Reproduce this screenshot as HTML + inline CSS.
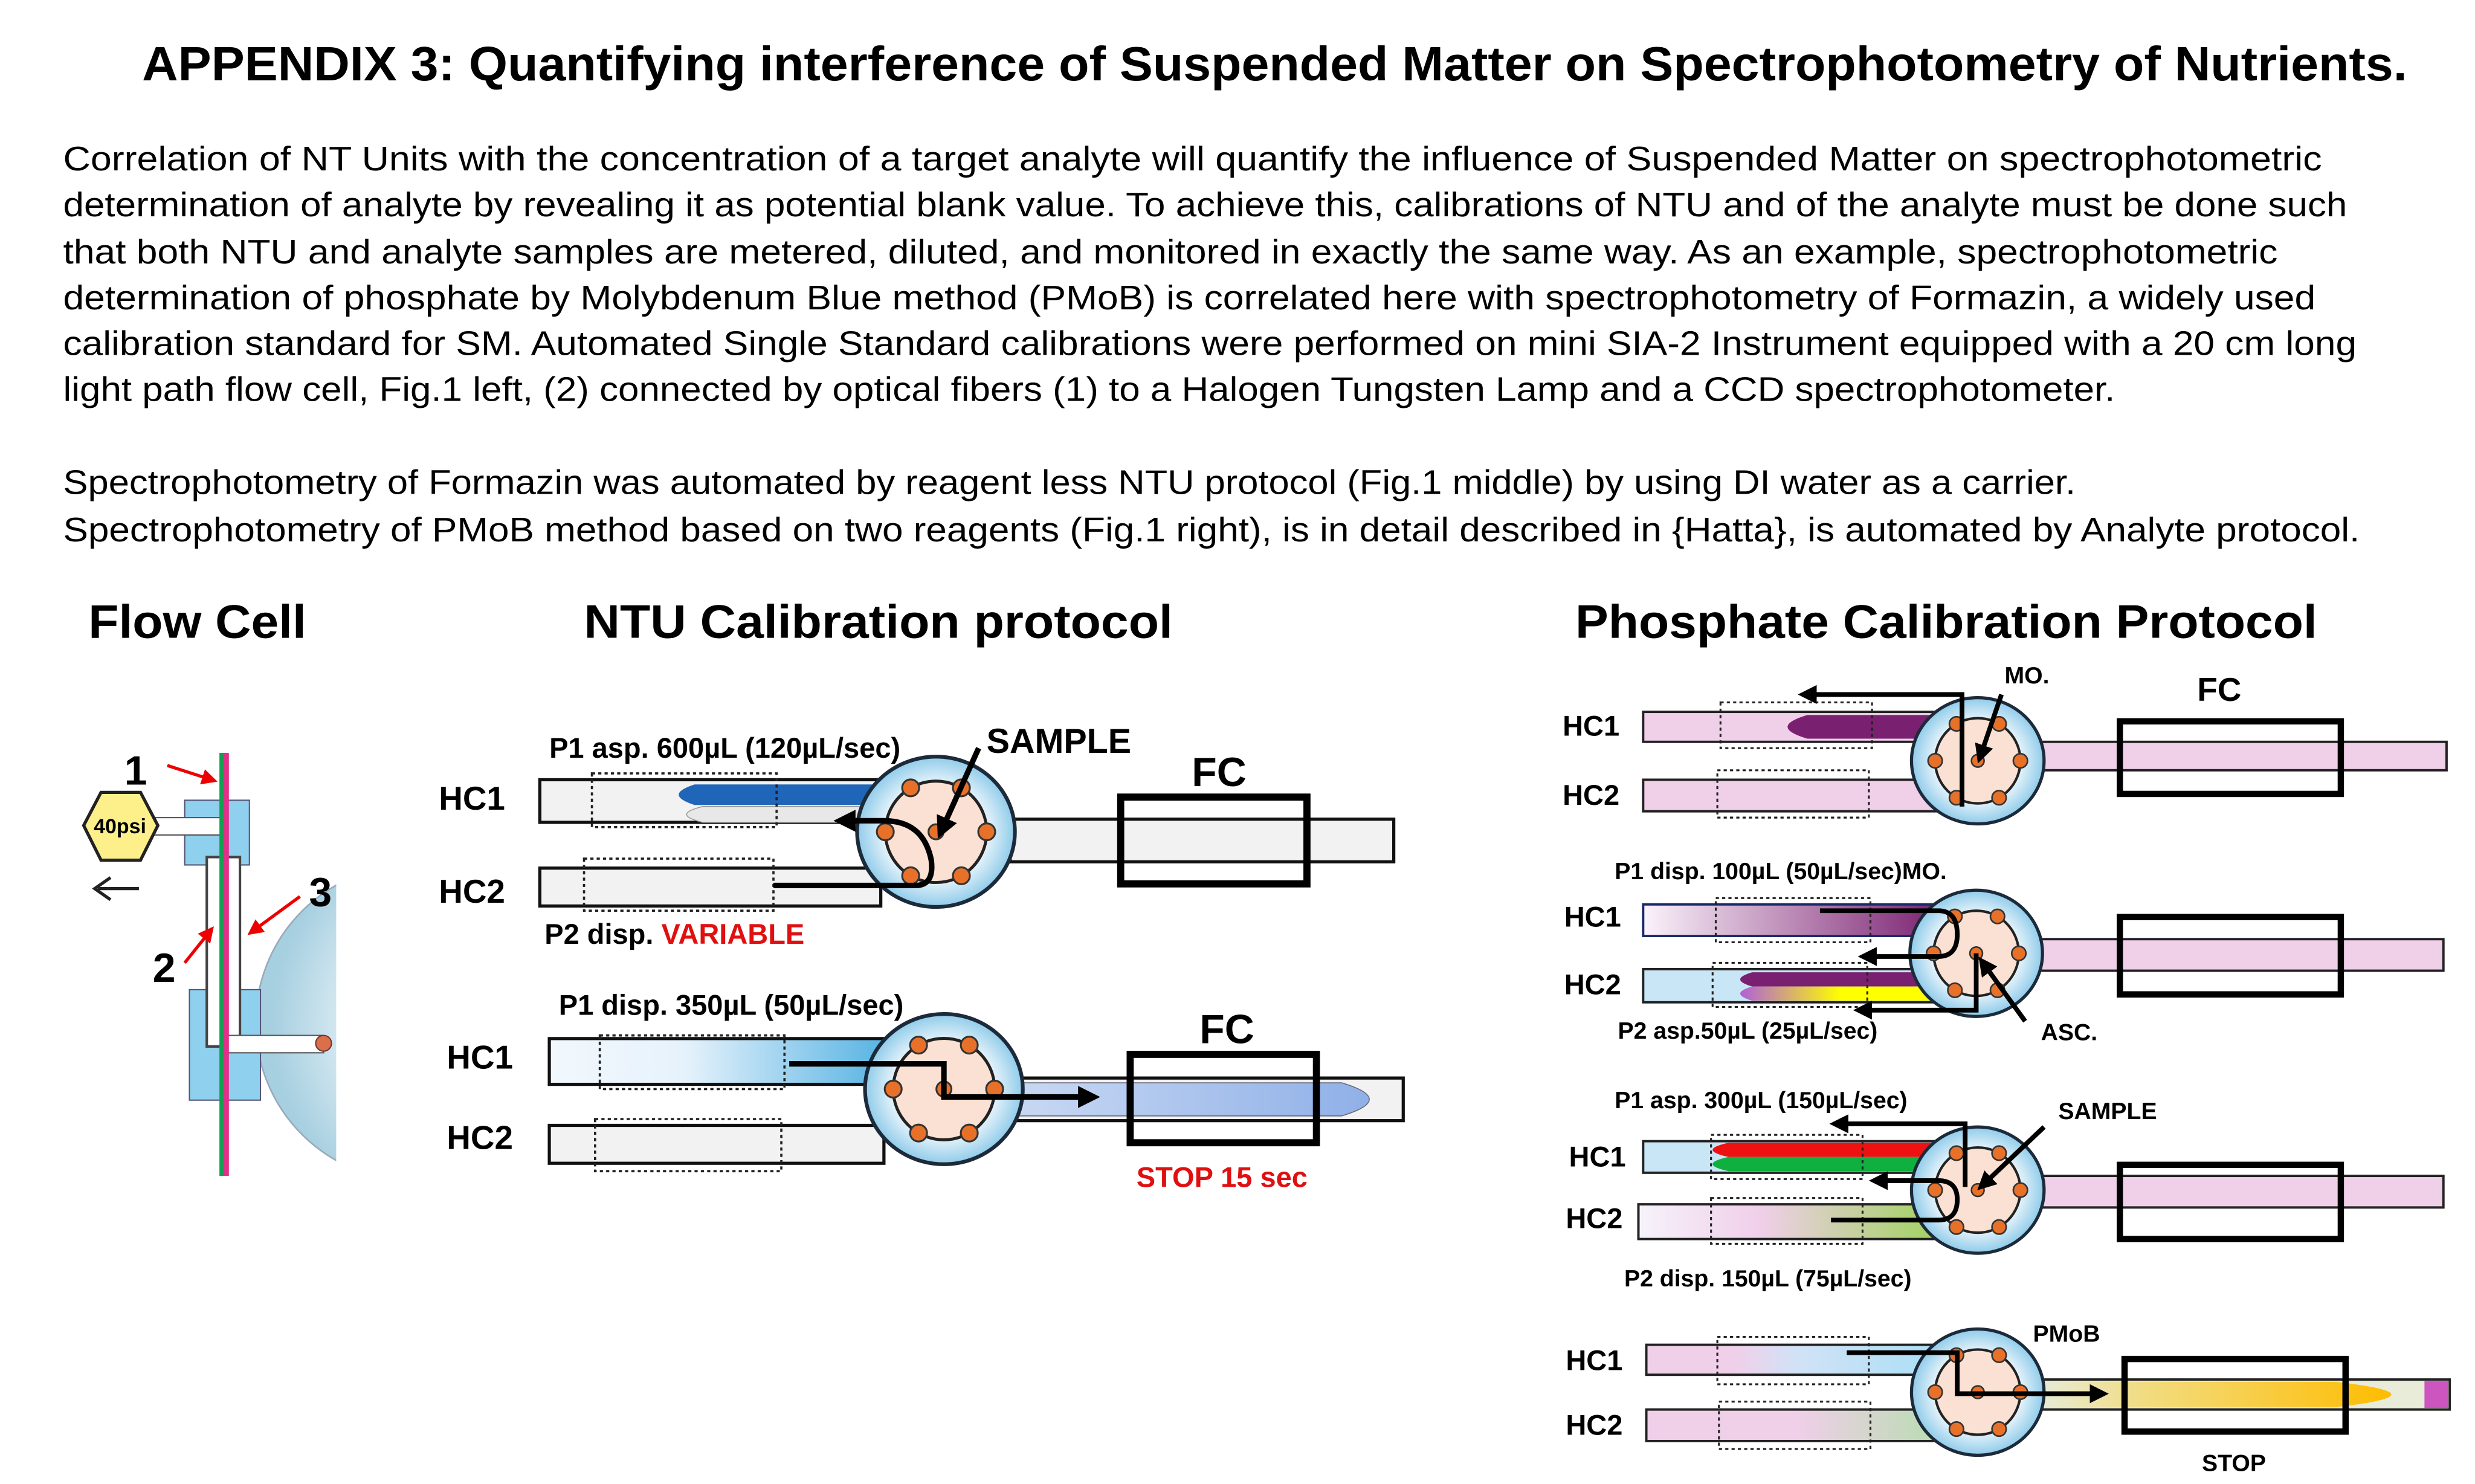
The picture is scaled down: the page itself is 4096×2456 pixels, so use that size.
<!DOCTYPE html>
<html><head><meta charset="utf-8"><style>
html,body{margin:0;padding:0;background:#fff;}
svg{display:block;}
text{font-family:"Liberation Sans",sans-serif;}
.b{font-weight:bold;}
</style></head><body>
<svg width="4096" height="2456" viewBox="0 0 1568 940.2" xmlns="http://www.w3.org/2000/svg">
<defs>
<radialGradient id="vg" cx="0.5" cy="0.5" r="0.5">
<stop offset="0.55" stop-color="#ffffff"/><stop offset="1" stop-color="#8fcbea"/></radialGradient>
<radialGradient id="dome" cx="0.7" cy="0.5" r="0.65">
<stop offset="0" stop-color="#fbe3d3"/><stop offset="0.45" stop-color="#f2f8fb"/><stop offset="1" stop-color="#a6cfe0"/></radialGradient>
<g id="valve">
<ellipse cx="0" cy="0" rx="42" ry="40" fill="url(#vg)" stroke="#1c2a3a" stroke-width="2"/>
<circle cx="0" cy="0" r="27" fill="#fbe1d3" stroke="#222" stroke-width="1.6"/>
<g fill="#e8712a" stroke="#333" stroke-width="1">
<circle cx="27" cy="0" r="4.5"/><circle cx="-27" cy="0" r="4.5"/>
<circle cx="13.5" cy="-23.4" r="4.5"/><circle cx="-13.5" cy="-23.4" r="4.5"/>
<circle cx="13.5" cy="23.4" r="4.5"/><circle cx="-13.5" cy="23.4" r="4.5"/>
<circle cx="0" cy="0" r="4"/></g>
</g>
<marker id="ah" markerWidth="4" markerHeight="4" refX="2" refY="2" orient="auto" markerUnits="strokeWidth"><path d="M0,0 L4,2 L0,4 Z" fill="#000"/></marker>
<marker id="rah" markerWidth="5" markerHeight="5" refX="3" refY="2.5" orient="auto" markerUnits="strokeWidth"><path d="M0,0 L5,2.5 L0,5 Z" fill="#e00"/></marker>
<linearGradient id="blueL" x1="0" x2="1"><stop offset="0" stop-color="#f2f8fd"/><stop offset="0.4" stop-color="#e6f2fb"/><stop offset="1" stop-color="#56b3e3"/></linearGradient>
<linearGradient id="blueFC" x1="0" x2="1"><stop offset="0" stop-color="#c9d9f3"/><stop offset="1" stop-color="#8fb0e8"/></linearGradient>
<linearGradient id="purp" x1="0" x2="1"><stop offset="0" stop-color="#fbf3fb"/><stop offset="1" stop-color="#7a2070"/></linearGradient>
<linearGradient id="yel" x1="0" x2="1"><stop offset="0" stop-color="#b060d8"/><stop offset="0.5" stop-color="#ffff00"/><stop offset="1" stop-color="#ffff00"/></linearGradient>
<linearGradient id="hc2g" x1="0" x2="1"><stop offset="0" stop-color="#f6f3fb"/><stop offset="0.4" stop-color="#f0cfe9"/><stop offset="1" stop-color="#9fd25c"/></linearGradient>
<linearGradient id="p4a" x1="0" x2="1"><stop offset="0" stop-color="#f0cfe9"/><stop offset="0.3" stop-color="#f0cfe9"/><stop offset="0.5" stop-color="#d2e2f6"/><stop offset="1" stop-color="#a9dff6"/></linearGradient>
<linearGradient id="p4b" x1="0" x2="1"><stop offset="0" stop-color="#f0cfe9"/><stop offset="0.5" stop-color="#f0cfe9"/><stop offset="1" stop-color="#b8ddb0"/></linearGradient>
<linearGradient id="p4o" x1="0" x2="1"><stop offset="0" stop-color="#e6ecd8"/><stop offset="0.3" stop-color="#f2dc80"/><stop offset="1" stop-color="#ffbc00"/></linearGradient>
</defs>

<text x="90" y="51" font-size="30.5" class="b" textLength="1435" lengthAdjust="spacingAndGlyphs">APPENDIX 3: Quantifying interference of Suspended Matter on Spectrophotometry of Nutrients.</text>
<g font-size="21.5">
<text x="40" y="108" textLength="1431" lengthAdjust="spacingAndGlyphs">Correlation of NT Units with the concentration of a target analyte will quantify the influence of Suspended Matter on spectrophotometric</text>
<text x="40" y="137" textLength="1447" lengthAdjust="spacingAndGlyphs">determination of analyte by revealing it as potential blank value. To achieve this, calibrations of NTU and of the analyte must be done such</text>
<text x="40" y="167" textLength="1403" lengthAdjust="spacingAndGlyphs">that both NTU and analyte samples are metered, diluted, and monitored in exactly the same way. As an example, spectrophotometric</text>
<text x="40" y="196" textLength="1427" lengthAdjust="spacingAndGlyphs">determination of phosphate by Molybdenum Blue method (PMoB) is correlated here with spectrophotometry of Formazin, a widely used</text>
<text x="40" y="225" textLength="1453" lengthAdjust="spacingAndGlyphs">calibration standard for SM. Automated Single Standard calibrations were performed on mini SIA-2 Instrument equipped with a 20 cm long</text>
<text x="40" y="254" textLength="1300" lengthAdjust="spacingAndGlyphs">light path flow cell, Fig.1 left, (2) connected by optical fibers (1) to a Halogen Tungsten Lamp and a CCD spectrophotometer.</text>
<text x="40" y="313" textLength="1275" lengthAdjust="spacingAndGlyphs">Spectrophotometry of Formazin was automated by reagent less NTU protocol (Fig.1 middle) by using DI water as a carrier.</text>
<text x="40" y="343" textLength="1455" lengthAdjust="spacingAndGlyphs">Spectrophotometry of PMoB method based on two reagents (Fig.1 right), is in detail described in {Hatta}, is automated by Analyte protocol.</text>
</g>
<g font-size="30" class="b">
<text x="56" y="404" textLength="138" lengthAdjust="spacingAndGlyphs">Flow Cell</text>
<text x="370" y="404" textLength="373" lengthAdjust="spacingAndGlyphs">NTU Calibration protocol</text>
<text x="998" y="404" textLength="470" lengthAdjust="spacingAndGlyphs">Phosphate Calibration Protocol</text>
</g>

<!-- Flow Cell -->
<clipPath id="fcclip"><rect x="0" y="0" width="213" height="940"/></clipPath>
<circle cx="262" cy="648" r="100" fill="url(#dome)" stroke="#9ab" stroke-width="1" clip-path="url(#fcclip)"/>
<rect x="117" y="507" width="41" height="41" fill="#8fd0ee" stroke="#557" stroke-width="0.8"/>
<rect x="120" y="627" width="45" height="70" fill="#8fd0ee" stroke="#557" stroke-width="0.8"/>
<rect x="131" y="543" width="21" height="120" fill="#fff" stroke="#444" stroke-width="1.6"/>
<rect x="97" y="518" width="44" height="11" fill="#fff" stroke="#555" stroke-width="0.8"/>
<rect x="141" y="656" width="64" height="11" fill="#fff" stroke="#555" stroke-width="0.8"/>
<circle cx="205" cy="661" r="5" fill="#d9704a" stroke="#733" stroke-width="0.8"/>
<rect x="139" y="477" width="3" height="268" fill="#12a050"/>
<rect x="142" y="477" width="3" height="268" fill="#e0308a"/>
<polygon points="64,502 89,502 100,523 89,545 64,545 53,523" fill="#fdf08a" stroke="#222" stroke-width="2"/>
<text x="76" y="528" font-size="13" class="b" text-anchor="middle">40psi</text>
<text x="86" y="497" font-size="26" class="b" text-anchor="middle">1</text>
<text x="104" y="622" font-size="26" class="b" text-anchor="middle">2</text>
<text x="203" y="574" font-size="26" class="b" text-anchor="middle">3</text>
<g stroke="#e00" stroke-width="2" fill="none">
<line x1="106" y1="485" x2="134" y2="494" marker-end="url(#rah)"/>
<line x1="190" y1="568" x2="160" y2="590" marker-end="url(#rah)"/>
<line x1="117" y1="610" x2="133" y2="590" marker-end="url(#rah)"/>
</g>
<path d="M88,563 H62 M70,556 L60,563 L70,570" stroke="#222" stroke-width="2" fill="none"/>

<!-- NTU top -->
<rect x="640" y="519" width="243" height="27" fill="#f2f2f2" stroke="#111" stroke-width="2"/>
<rect x="342" y="494" width="220" height="27" fill="#f2f2f2" stroke="#111" stroke-width="2"/>
<rect x="342" y="550" width="216" height="24" fill="#f2f2f2" stroke="#111" stroke-width="2"/>
<path d="M560,497 H440 Q420,503.5 440,510 H560 Z" fill="#1f66b8"/>
<path d="M560,511 H445 Q425,516 445,521 H560 Z" fill="#e8e8e8" stroke="#999" stroke-width="0.6"/>
<rect x="375" y="490" width="117" height="34" fill="none" stroke="#222" stroke-width="1.4" stroke-dasharray="2,2"/>
<rect x="370" y="544" width="120" height="33" fill="none" stroke="#222" stroke-width="1.4" stroke-dasharray="2,2"/>
<use href="#valve" transform="translate(593,527) scale(1.19)"/>
<rect x="710" y="505" width="118" height="55" fill="none" stroke="#000" stroke-width="4.5"/>
<path d="M490,561 H580 Q592,561 590,545 Q585,520 560,520 H535" fill="none" stroke="#000" stroke-width="3.5" marker-end="url(#ah)"/>
<line x1="620" y1="474" x2="597" y2="525" stroke="#000" stroke-width="3.5" marker-end="url(#ah)"/>
<g font-size="21" class="b">
<text x="278" y="513">HC1</text><text x="278" y="572">HC2</text>
<text x="348" y="480" font-size="18">P1 asp. 600µL (120µL/sec)</text>
<text x="625" y="477" font-size="22">SAMPLE</text>
<text x="755" y="498" font-size="26">FC</text>
<text x="345" y="598" font-size="18">P2 disp. <tspan fill="#e01010">VARIABLE</tspan></text>
</g>

<!-- NTU bottom -->
<rect x="640" y="683" width="249" height="27" fill="#f2f2f2" stroke="#111" stroke-width="2"/>
<path d="M640,686 H850 Q885,696.5 850,707 H640 Z" fill="url(#blueFC)" stroke="#667" stroke-width="0.6"/>
<rect x="348" y="658" width="214" height="29" fill="url(#blueL)" stroke="#111" stroke-width="2"/>
<rect x="348" y="713" width="212" height="24" fill="#f2f2f2" stroke="#111" stroke-width="2"/>
<rect x="380" y="656" width="117" height="34" fill="none" stroke="#222" stroke-width="1.4" stroke-dasharray="2,2"/>
<rect x="377" y="709" width="118" height="33" fill="none" stroke="#222" stroke-width="1.4" stroke-dasharray="2,2"/>
<use href="#valve" transform="translate(598,690) scale(1.19)"/>
<rect x="716" y="668" width="118" height="56" fill="none" stroke="#000" stroke-width="4.5"/>
<path d="M500,674 H598 V695 H690" fill="none" stroke="#000" stroke-width="3.5" marker-end="url(#ah)"/>
<g font-size="21" class="b">
<text x="283" y="677">HC1</text><text x="283" y="728">HC2</text>
<text x="354" y="643" font-size="18">P1 disp. 350µL (50µL/sec)</text>
<text x="760" y="661" font-size="26">FC</text>
<text x="720" y="752" font-size="18" fill="#e01010">STOP 15 sec</text>
</g>

<g font-size="18" class="b">
<!-- panel 1 -->
<rect x="1290" y="470" width="260" height="18" fill="#f0cfe9" stroke="#222" stroke-width="1.5"/>
<rect x="1041" y="451" width="190" height="19" fill="#f0cfe9" stroke="#222" stroke-width="1.5"/>
<rect x="1041" y="494" width="190" height="20" fill="#f0cfe9" stroke="#222" stroke-width="1.5"/>
<path d="M1230,453 H1145 Q1120,460.5 1145,468 H1230 Z" fill="#7a2070"/>
<rect x="1090" y="445" width="96" height="29" fill="none" stroke="#222" stroke-width="1.2" stroke-dasharray="2,2"/>
<rect x="1088" y="488" width="96" height="30" fill="none" stroke="#222" stroke-width="1.2" stroke-dasharray="2,2"/>
<use href="#valve" transform="translate(1253,482)"/>
<rect x="1343" y="457" width="140" height="46" fill="none" stroke="#000" stroke-width="4"/>
<path d="M1243,511 V440 H1145" fill="none" stroke="#000" stroke-width="3" marker-end="url(#ah)"/>
<line x1="1268" y1="440" x2="1255" y2="478" stroke="#000" stroke-width="3" marker-end="url(#ah)"/>
<text x="990" y="466">HC1</text><text x="990" y="510">HC2</text>
<text x="1270" y="433" font-size="15">MO.</text>
<text x="1392" y="444" font-size="21">FC</text>

<!-- panel 2 -->
<rect x="1290" y="595" width="258" height="20" fill="#f0cfe9" stroke="#222" stroke-width="1.5"/>
<rect x="1041" y="573" width="190" height="20" fill="url(#purp)" stroke="#1a2a6a" stroke-width="1.5"/>
<rect x="1041" y="614" width="190" height="21" fill="#c8e6f6" stroke="#222" stroke-width="1.5"/>
<path d="M1230,616 H1110 Q1095,620.5 1110,625 H1230 Z" fill="#7a2070"/>
<path d="M1230,625 H1110 Q1095,629.5 1110,634 H1230 Z" fill="url(#yel)"/>
<rect x="1087" y="569" width="98" height="28" fill="none" stroke="#222" stroke-width="1.2" stroke-dasharray="2,2"/>
<rect x="1085" y="610" width="98" height="28" fill="none" stroke="#222" stroke-width="1.2" stroke-dasharray="2,2"/>
<use href="#valve" transform="translate(1252,604)"/>
<rect x="1343" y="581" width="140" height="49" fill="none" stroke="#000" stroke-width="4"/>
<path d="M1153,577 H1228 Q1240,577 1240,592 Q1240,606 1228,606 H1183" fill="none" stroke="#000" stroke-width="3" marker-end="url(#ah)"/>
<path d="M1252,604 V640 H1180" fill="none" stroke="#000" stroke-width="3" marker-end="url(#ah)"/>
<line x1="1283" y1="647" x2="1257" y2="611" stroke="#000" stroke-width="3" marker-end="url(#ah)"/>
<text x="991" y="587">HC1</text><text x="991" y="630">HC2</text>
<text x="1023" y="557" font-size="15">P1 disp. 100µL (50µL/sec)MO.</text>
<text x="1025" y="658" font-size="15">P2 asp.50µL (25µL/sec)</text>
<text x="1293" y="659" font-size="15">ASC.</text>

<!-- panel 3 -->
<rect x="1290" y="745" width="258" height="20" fill="#f0cfe9" stroke="#222" stroke-width="1.5"/>
<rect x="1041" y="723" width="190" height="20" fill="#c8e6f6" stroke="#222" stroke-width="1.5"/>
<rect x="1038" y="763" width="192" height="22" fill="url(#hc2g)" stroke="#222" stroke-width="1.5"/>
<path d="M1230,724 H1095 Q1075,728.5 1095,733 H1230 Z" fill="#ee1111"/>
<path d="M1230,733 H1095 Q1075,737.5 1095,742 H1230 Z" fill="#10b040"/>
<rect x="1084" y="719" width="96" height="28" fill="none" stroke="#222" stroke-width="1.2" stroke-dasharray="2,2"/>
<rect x="1084" y="759" width="96" height="29" fill="none" stroke="#222" stroke-width="1.2" stroke-dasharray="2,2"/>
<use href="#valve" transform="translate(1253,754)"/>
<rect x="1343" y="738" width="140" height="47" fill="none" stroke="#000" stroke-width="4"/>
<path d="M1245,752 V712 H1165" fill="none" stroke="#000" stroke-width="3" marker-end="url(#ah)"/>
<path d="M1160,773 H1228 Q1240,773 1240,760 Q1240,748 1228,748 H1190" fill="none" stroke="#000" stroke-width="3" marker-end="url(#ah)"/>
<line x1="1295" y1="714" x2="1257" y2="750" stroke="#000" stroke-width="3" marker-end="url(#ah)"/>
<text x="994" y="739">HC1</text><text x="992" y="778">HC2</text>
<text x="1023" y="702" font-size="15">P1 asp. 300µL (150µL/sec)</text>
<text x="1304" y="709" font-size="15">SAMPLE</text>
<text x="1029" y="815" font-size="15">P2 disp. 150µL (75µL/sec)</text>

<!-- panel 4 -->
<rect x="1290" y="874" width="262" height="19" fill="#e8ecd8" stroke="#222" stroke-width="1.5"/>
<rect x="1536" y="875" width="15" height="17" fill="#cc55c0"/>
<path d="M1292,875.5 H1480 Q1550,883.5 1480,891.5 H1292 Z" fill="url(#p4o)"/>
<rect x="1043" y="852" width="188" height="19" fill="url(#p4a)" stroke="#222" stroke-width="1.5"/>
<rect x="1043" y="893" width="188" height="20" fill="url(#p4b)" stroke="#222" stroke-width="1.5"/>
<rect x="1088" y="847" width="96" height="30" fill="none" stroke="#222" stroke-width="1.2" stroke-dasharray="2,2"/>
<rect x="1089" y="888" width="96" height="30" fill="none" stroke="#222" stroke-width="1.2" stroke-dasharray="2,2"/>
<use href="#valve" transform="translate(1253,882)"/>
<rect x="1346" y="861" width="140" height="46" fill="none" stroke="#000" stroke-width="4"/>
<path d="M1170,857 H1240 V883 H1330" fill="none" stroke="#000" stroke-width="3" marker-end="url(#ah)"/>
<text x="992" y="868">HC1</text><text x="992" y="909">HC2</text>
<text x="1288" y="850" font-size="15">PMoB</text>
<text x="1395" y="932" font-size="15">STOP</text>
</g>
</svg>
</body></html>
